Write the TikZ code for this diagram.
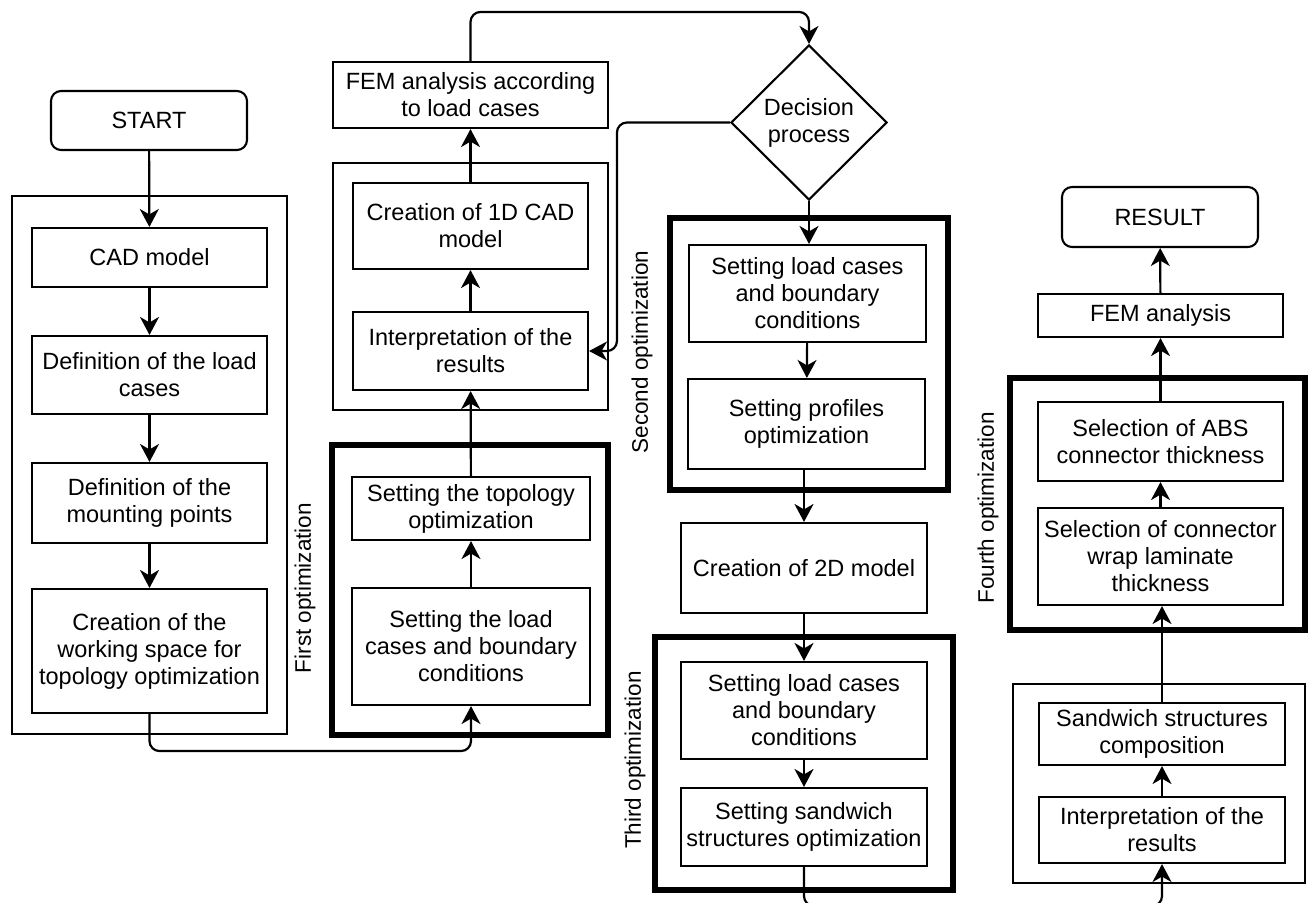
\documentclass[tikz,border=0pt]{standalone}
\usepackage{fontspec}
\setmainfont{Liberation Sans}
\usetikzlibrary{arrows.meta,shapes.geometric}
\begin{document}
\begin{tikzpicture}[x=1pt,y=-1pt,
  font=\fontsize{23.5}{27}\selectfont,
  proc/.style={draw, line width=2.1pt, align=center, inner sep=1pt},
  term/.style={proc, rounded corners=10pt},
  grp/.style={draw, line width=2.1pt},
  thickgrp/.style={draw, line width=5.5pt},
  conn/.style={line width=2.2pt, -{Stealth[length=18pt,width=19pt,inset=5.5pt]}, rounded corners=10pt},
  optlabel/.style={rotate=90, font=\fontsize{22.5}{27}\selectfont}
]
\useasboundingbox (0,0) rectangle (1308,902);

% group frames
\draw[grp] (12,196) rectangle (287,734);
\draw[grp] (333,163) rectangle (608,410);
\draw[thickgrp] (332,445) rectangle (608,735);
\draw[thickgrp] (670,218) rectangle (948,490);
\draw[thickgrp] (655,637) rectangle (953,890);
\draw[thickgrp] (1010,378) rectangle (1305,630);
\draw[grp] (1013,684) rectangle (1305,883);

% column 1
\node[term, minimum width=196pt, minimum height=59pt] (start) at (149,120.5) {START};
\node[proc, minimum width=235pt, minimum height=59pt] (cad) at (149.5,257.5) {CAD model};
\node[proc, minimum width=235pt, minimum height=78pt] (defload) at (149.5,375) {Definition of the load\\cases};
\node[proc, minimum width=235pt, minimum height=80pt] (mount) at (149.5,503) {Definition of the\\mounting points};
\node[proc, minimum width=235pt, minimum height=124pt] (work) at (149.5,651) {Creation of the\\working space for\\topology optimization};
\node[optlabel] (lab1) at (305,588) {First optimization};

% column 2
\node[proc, minimum width=275pt, minimum height=66pt] (fem1) at (470.5,95) {FEM analysis according\\to load cases};
\node[proc, minimum width=235pt, minimum height=86pt] (cad1d) at (470.5,226) {Creation of 1D CAD\\model};
\node[proc, minimum width=235pt, minimum height=78pt] (interp1) at (470.5,351) {Interpretation of the\\results};
\node[proc, minimum width=238pt, minimum height=63pt] (topo) at (471,508.5) {Setting the topology\\optimization};
\node[proc, minimum width=238pt, minimum height=117pt] (setload1) at (471,646.5) {Setting the load\\cases and boundary\\conditions};

% column 3
\node[diamond, draw, line width=2.1pt, minimum width=156pt, minimum height=155pt, inner sep=0pt, align=center] (dec) at (809,122.5) {Decision\\process};
\node[proc, minimum width=237pt, minimum height=97pt] (setload2) at (807.5,293.5) {Setting load cases\\and boundary\\conditions};
\node[proc, minimum width=237pt, minimum height=90pt] (prof) at (806.5,424) {Setting profiles\\optimization};
\node[optlabel] (lab2) at (642,352) {Second optimization};
\node[proc, minimum width=246pt, minimum height=90pt] (twod) at (804,568) {Creation of 2D model};
\node[proc, minimum width=246pt, minimum height=97pt] (setload3) at (804,710.5) {Setting load cases\\and boundary\\conditions};
\node[proc, minimum width=246pt, minimum height=78pt] (sandopt) at (804,827) {Setting sandwich\\structures optimization};
\node[optlabel] (lab3) at (635,760) {Third optimization};

% column 4
\node[term, minimum width=196pt, minimum height=60pt] (result) at (1160,217) {RESULT};
\node[proc, minimum width=245pt, minimum height=43pt] (fem4) at (1160.5,315.5) {FEM analysis};
\node[proc, minimum width=245pt, minimum height=79pt] (abs) at (1160.5,441.5) {Selection of ABS\\connector thickness};
\node[proc, minimum width=245pt, minimum height=97pt] (selconn) at (1160.5,556.5) {Selection of connector\\wrap laminate\\thickness};
\node[optlabel] (lab4) at (988,508) {Fourth optimization};
\node[proc, minimum width=246pt, minimum height=62pt] (sandcomp) at (1162,734) {Sandwich structures\\composition};
\node[proc, minimum width=246pt, minimum height=66pt] (interp4) at (1162,830) {Interpretation of the\\results};

% connectors
\draw[conn] (start) -- (cad);
\draw[conn] (cad) -- (defload);
\draw[conn] (defload) -- (mount);
\draw[conn] (mount) -- (work);
\draw[conn] (work.south) -- ++(0,37) -| (setload1.south);
\draw[conn] (setload1) -- (topo);
\draw[conn] (topo) -- (interp1);
\draw[conn] (interp1) -- (cad1d);
\draw[conn] (cad1d) -- (fem1);
\draw[conn] (fem1.north) -- ++(0,-49) -| (dec.north);
\draw[conn] (dec.west) -| ++(-113,228.5) -- (interp1.east);
\draw[conn] (dec.south) -- (setload2.north -| dec.south);
\draw[conn] (setload2) -- (prof);
\draw[conn] (prof.south -| twod.north) -- (twod.north);
\draw[conn] (twod) -- (setload3);
\draw[conn] (setload3) -- (sandopt);
\draw[conn] (sandopt.south) -- ++(0,39) -| (interp4.south);
\draw[conn] (interp4) -- (sandcomp);
\draw[conn] (sandcomp.north) -- (selconn.south -| sandcomp.north);
\draw[conn] (selconn.north -| abs.south) -- (abs.south);
\draw[conn] (abs) -- (fem4);
\draw[conn] (fem4) -- (result);
\end{tikzpicture}
\end{document}
